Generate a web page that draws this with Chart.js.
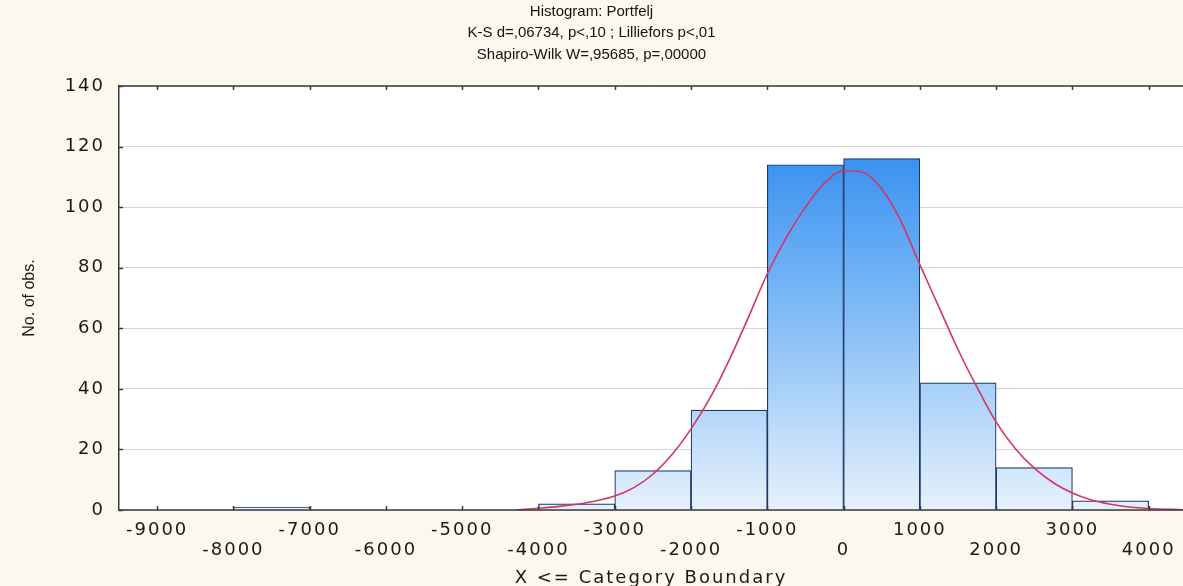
<!DOCTYPE html>
<html><head><meta charset="utf-8">
<script src="https://cdn.jsdelivr.net/npm/chart.js@4.4.1/dist/chart.umd.min.js"></script>
<style>html,body{margin:0;padding:0;background:#FCF8EE;overflow:hidden}#wrap{width:1183px;height:586px}</style>
</head><body><div id="wrap"><canvas id="c" width="1183" height="586"></canvas></div>
<script>
const titleLines = ['Histogram: Portfelj', 'K-S d=,06734, p<,10 ; Lilliefors p<,01', 'Shapiro-Wilk W=,95685, p=,00000'];
const xAxisTitle = 'X <= Category Boundary';
const yAxisTitle = 'No. of obs.';
const binStarts = [-8000, -4000, -3000, -2000, -1000, 0, 1000, 2000, 3000];
const binCounts = [1, 2, 13, 33, 114, 116, 42, 14, 3];
const binWidth = 1000;
const curveX = [-4300, -4000, -3750, -3500, -3250, -3000, -2750, -2500, -2250, -2000, -1750, -1500, -1250, -1000, -750, -500, -250, 0, 250, 500, 750, 1000, 1250, 1500, 1750, 2000, 2250, 2500, 2750, 3000, 3250, 3500, 3750, 4000, 4450];
const curveY = [0, 0.6, 1.1, 1.9, 3, 4.6, 7.4, 11.8, 18.3, 26.8, 37, 49.5, 63.5, 78, 90, 100, 108, 112, 111.5, 106, 95.5, 81, 67, 53, 40.5, 29, 20.3, 13.8, 9, 5.6, 3.3, 1.9, 1, 0.5, 0.1];
const xTickValues = [-9000, -8000, -7000, -6000, -5000, -4000, -3000, -2000, -1000, 0, 1000, 2000, 3000, 4000];
const yTickValues = [0, 20, 40, 60, 80, 100, 120, 140];

const barData = binStarts.map((s, i) => ({x: s + binWidth / 2, y: binCounts[i]}));
const curveData = curveX.map((x, i) => ({x: x, y: curveY[i]}));

function barGradient(ctx) {
  const chart = ctx.chart; const a = chart.chartArea;
  if (!a) return '#7fb8f5';
  const g = chart.ctx.createLinearGradient(0, a.top, 0, a.bottom);
  g.addColorStop(0, '#1a7eee');
  g.addColorStop(0.45, '#6fb1f5');
  g.addColorStop(1, '#e6f1fd');
  return g;
}

const framePlugin = {
  id: 'framePlugin',
  beforeDraw(chart) {
    const {ctx, chartArea: a} = chart;
    ctx.letterSpacing = '0px';
    ctx.save(); ctx.fillStyle = '#ffffff';
    ctx.fillRect(a.left, a.top, a.right - a.left, a.bottom - a.top);
    ctx.restore();
  },
  afterDatasetsDraw(chart) { chart.ctx.letterSpacing = '2px'; },
  afterDraw(chart) {
    const {ctx, chartArea: a, scales} = chart;
    ctx.letterSpacing = '0px';
    ctx.save();
    ctx.strokeStyle = '#3a3a3a'; ctx.lineWidth = 1.5;
    ctx.beginPath(); ctx.moveTo(a.left - 0.75, a.top); ctx.lineTo(a.right, a.top); ctx.stroke();
    ctx.beginPath(); ctx.moveTo(a.left - 0.75, a.bottom); ctx.lineTo(a.right, a.bottom); ctx.stroke();
    xTickValues.forEach(v => {
      const px = Math.round(scales.x.getPixelForValue(v)) + 0.5;
      ctx.beginPath(); ctx.moveTo(px, a.bottom); ctx.lineTo(px, a.bottom - 4); ctx.stroke();
      ctx.beginPath(); ctx.moveTo(px, a.top); ctx.lineTo(px, a.top + 4); ctx.stroke();
    });
    yTickValues.forEach(v => {
      const py = Math.round(scales.y.getPixelForValue(v)) + 0.5;
      ctx.beginPath(); ctx.moveTo(a.left, py); ctx.lineTo(a.left + 4, py); ctx.stroke();
    });
    ctx.restore();
  }
};

new Chart(document.getElementById('c'), {
  type: 'bar',
  data: {
    datasets: [
      {type: 'line', data: curveData, borderColor: '#d6365e', borderWidth: 1.6, pointRadius: 0, cubicInterpolationMode: 'monotone', order: 0},
      {type: 'bar', data: barData, backgroundColor: barGradient, borderColor: '#1c3869', borderWidth: 1.2, borderSkipped: 'start', barPercentage: 1, categoryPercentage: 1, order: 1}
    ]
  },
  options: {
    responsive: false, devicePixelRatio: 1, animation: false,
    layout: {padding: {left: 0, right: 0, top: 0, bottom: 0}},
    plugins: {
      legend: {display: false}, tooltip: {enabled: false},
      title: {display: true, text: titleLines, color: '#141414', font: {family: 'Liberation Sans', size: 15, weight: 'normal', lineHeight: '21.5px'}, padding: {top: 1, bottom: 20.5}}
    },
    scales: {
      x: {
        type: 'linear', min: -9500, max: 4450, offset: false,
        afterBuildTicks: (s) => { s.ticks = xTickValues.map(v => ({value: v})); },
        afterFit: (s) => { s.height = 76; },
        grid: {display: false, drawTicks: false, offset: false, z: 1},
        border: {display: false},
        ticks: {
          autoSkip: false, maxRotation: 0, minRotation: 0, padding: 11, z: 1, color: '#1a1a1a',
          font: {family: 'DejaVu Sans', size: 18, lineHeight: '19.5px'},
          callback: (v, i) => (i % 2 === 0 ? String(v) : ['', String(v)])
        },
        title: {display: true, text: xAxisTitle, color: '#1a1a1a', font: {family: 'DejaVu Sans', size: 18, lineHeight: '16px'}, padding: {top: 0, bottom: 0}}
      },
      y: {
        min: 0, max: 140,
        afterBuildTicks: (s) => { s.ticks = yTickValues.map(v => ({value: v})); },
        afterFit: (s) => { s.width = 119; },
        grid: {color: '#d6d6d6', lineWidth: 1, drawTicks: false, z: -1},
        border: {display: true, color: '#3a3a3a', width: 1.5},
        ticks: {padding: 14, z: 1, color: '#1a1a1a', font: {family: 'DejaVu Sans', size: 18}},
        title: {display: true, text: yAxisTitle, color: '#1a1a1a', font: {family: 'Liberation Sans', size: 16, lineHeight: 1.2}, padding: {top: 19.5, bottom: 0}}
      }
    }
  },
  plugins: [framePlugin]
});
</script></body></html>
